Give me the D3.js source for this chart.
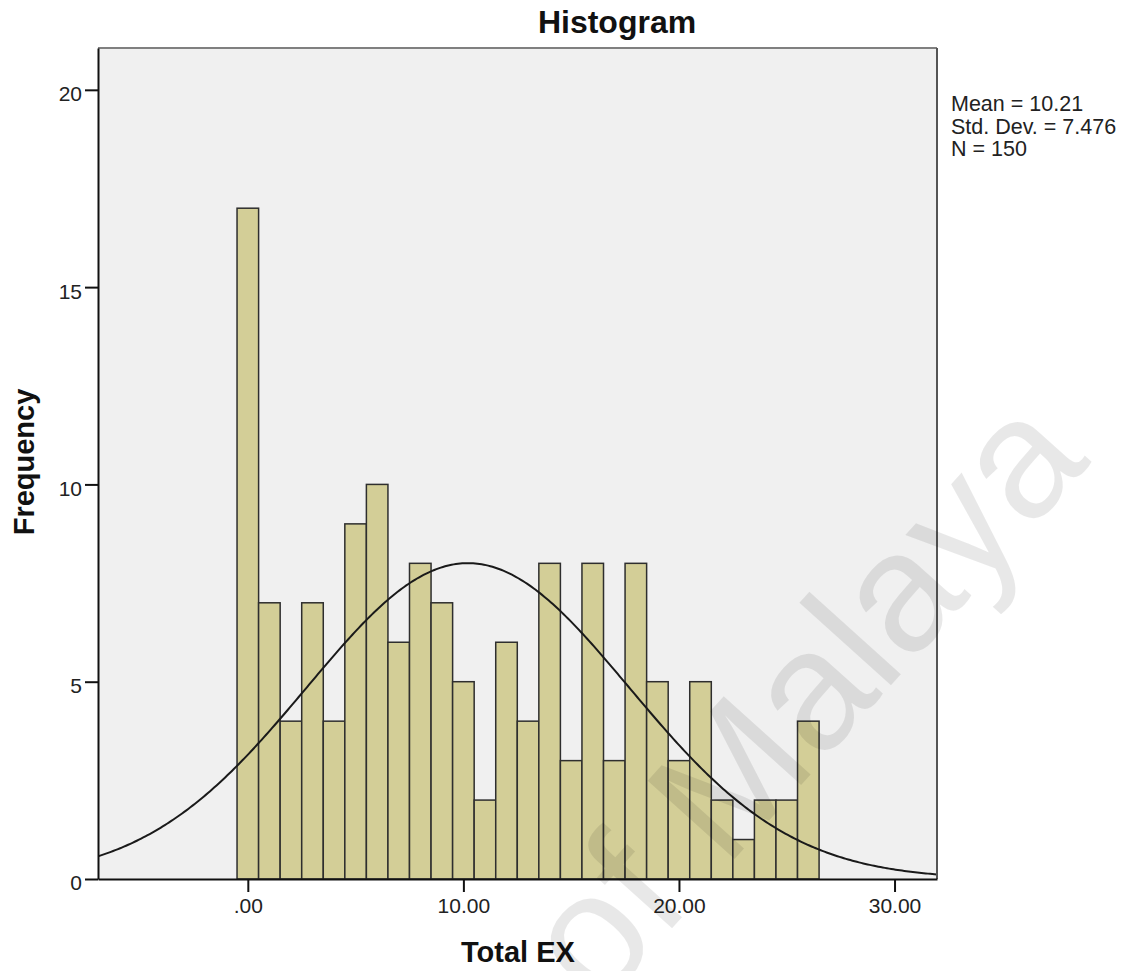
<!DOCTYPE html>
<html>
<head>
<meta charset="utf-8">
<script src="https://cdn.jsdelivr.net/npm/d3@7"></script>
<style>
  body { margin: 0; background: #fff; }
  text { font-family: "Liberation Sans", Arial, sans-serif; }
</style>
</head>
<body>
<div id="chart"></div>
<script>
// histogram data (bin centres, width 1)
var binCenters = [0,1,2,3,4,5,6,7,8,9,10,11,12,13,14,15,16,17,18,19,20,21,22,23,24,25,26];
var counts     = [17,7,4,7,4,9,10,6,8,7,5,2,6,4,8,3,8,3,8,5,3,5,2,1,2,2,4];
var binWidth = 1;

var xTicks = [0, 10, 20, 30];
var xTickLabels = ['.00', '10.00', '20.00', '30.00'];
var yTicks = [0, 5, 10, 15, 20];

var statMean = 10.21, statSd = 7.476, statN = 150;
var statLines = ['Mean = 10.21', 'Std. Dev. = 7.476', 'N = 150'];

var W = 1126, H = 971;
var plotL = 98, plotR = 937, plotT = 48, plotB = 879;

var svg = d3.select('#chart').append('svg')
            .attr('width', W)
            .attr('height', H);

var x = d3.scaleLinear().domain([-6.95, 31.97]).range([plotL, plotR]);
var y = d3.scaleLinear().domain([0, 21.06]).range([plotB, plotT]);

svg.append('defs').append('clipPath').attr('id', 'plotClip')
   .append('rect')
   .attr('x', plotL).attr('y', plotT)
   .attr('width', plotR - plotL).attr('height', plotB - plotT);

// plot background
svg.append('rect')
   .attr('x', plotL).attr('y', plotT)
   .attr('width', plotR - plotL).attr('height', plotB - plotT)
   .attr('fill', '#f0f0f0');

// bars
svg.append('g').selectAll('rect').data(binCenters)
   .enter()
   .append('rect')
   .attr('x', function(d){ return x(d - binWidth/2); })
   .attr('width', function(d){ return x(d + binWidth/2) - x(d - binWidth/2); })
   .attr('y', function(d,i){ return y(counts[i]); })
   .attr('height', function(d,i){ return y(0) - y(counts[i]); })
   .attr('fill', '#d3ce97')
   .attr('stroke', '#2e2e2e')
   .attr('stroke-width', 1.5);

// normal curve
var scaleF = statN * binWidth / (statSd * Math.sqrt(2 * Math.PI));
var curvePts = d3.range(-6.95, 31.98, 0.1).map(function(v){
	var z = (v - statMean) / statSd;
	return [v, scaleF * Math.exp(-0.5 * z * z)];
});
svg.append('path')
   .datum(curvePts)
   .attr('clip-path', 'url(#plotClip)')
   .attr('fill', 'none')
   .attr('stroke', '#1a1a1a')
   .attr('stroke-width', 2)
   .attr('d', d3.line().x(function(d){ return x(d[0]); }).y(function(d){ return y(d[1]); }));

// frame
svg.append('line').attr('x1', plotL).attr('x2', plotR).attr('y1', plotT).attr('y2', plotT)
   .attr('stroke', '#808080').attr('stroke-width', 2);
svg.append('line').attr('x1', plotR).attr('x2', plotR).attr('y1', plotT).attr('y2', plotB)
   .attr('stroke', '#555').attr('stroke-width', 2);

// axes
var xAxis = svg.append('g')
   .attr('transform', 'translate(0,' + plotB + ')')
   .call(d3.axisBottom(x).tickValues(xTicks).tickSize(13).tickSizeOuter(0)
           .tickFormat(function(d,i){ return xTickLabels[i]; }));
var yAxis = svg.append('g')
   .attr('transform', 'translate(' + plotL + ',0)')
   .call(d3.axisLeft(y).tickValues(yTicks).tickSize(13).tickSizeOuter(0));

[xAxis, yAxis].forEach(function(a){
	a.select('.domain').attr('stroke', '#111').attr('stroke-width', 2);
	a.selectAll('.tick line').attr('stroke', '#111').attr('stroke-width', 2);
	a.selectAll('.tick text').attr('fill', '#222')
	 .style('font-size', '21px').style('font-family', '"Liberation Sans", Arial, sans-serif');
});
xAxis.selectAll('.tick text').attr('y', 19);
yAxis.selectAll('.tick text').attr('x', -16).attr('dy', '0.52em');

// titles
svg.append('text').attr('x', 617).attr('y', 33)
   .attr('text-anchor', 'middle').attr('font-weight', 'bold').attr('font-size', 32)
   .attr('fill', '#111').text('Histogram');
svg.append('text').attr('x', 518).attr('y', 962)
   .attr('text-anchor', 'middle').attr('font-weight', 'bold').attr('font-size', 29)
   .attr('fill', '#111').text('Total EX');
svg.append('text')
   .attr('transform', 'translate(34,462) rotate(-90)')
   .attr('text-anchor', 'middle').attr('font-weight', 'bold').attr('font-size', 29)
   .attr('fill', '#111').text('Frequency');

// stats box
svg.append('g').selectAll('text').data(statLines)
   .enter()
   .append('text')
   .attr('x', 951)
   .attr('y', function(d,i){ return 111 + i * 22.5; })
   .attr('font-size', 21.5)
   .attr('fill', '#222')
   .text(function(d){ return d; });

// watermark
svg.append('text')
   .attr('transform', 'translate(1092,462) rotate(-48)')
   .attr('text-anchor', 'end')
   .attr('font-size', 170)
   .attr('fill', '#000')
   .attr('fill-opacity', 0.09)
   .text('University of Malaya');
</script>
</body>
</html>
